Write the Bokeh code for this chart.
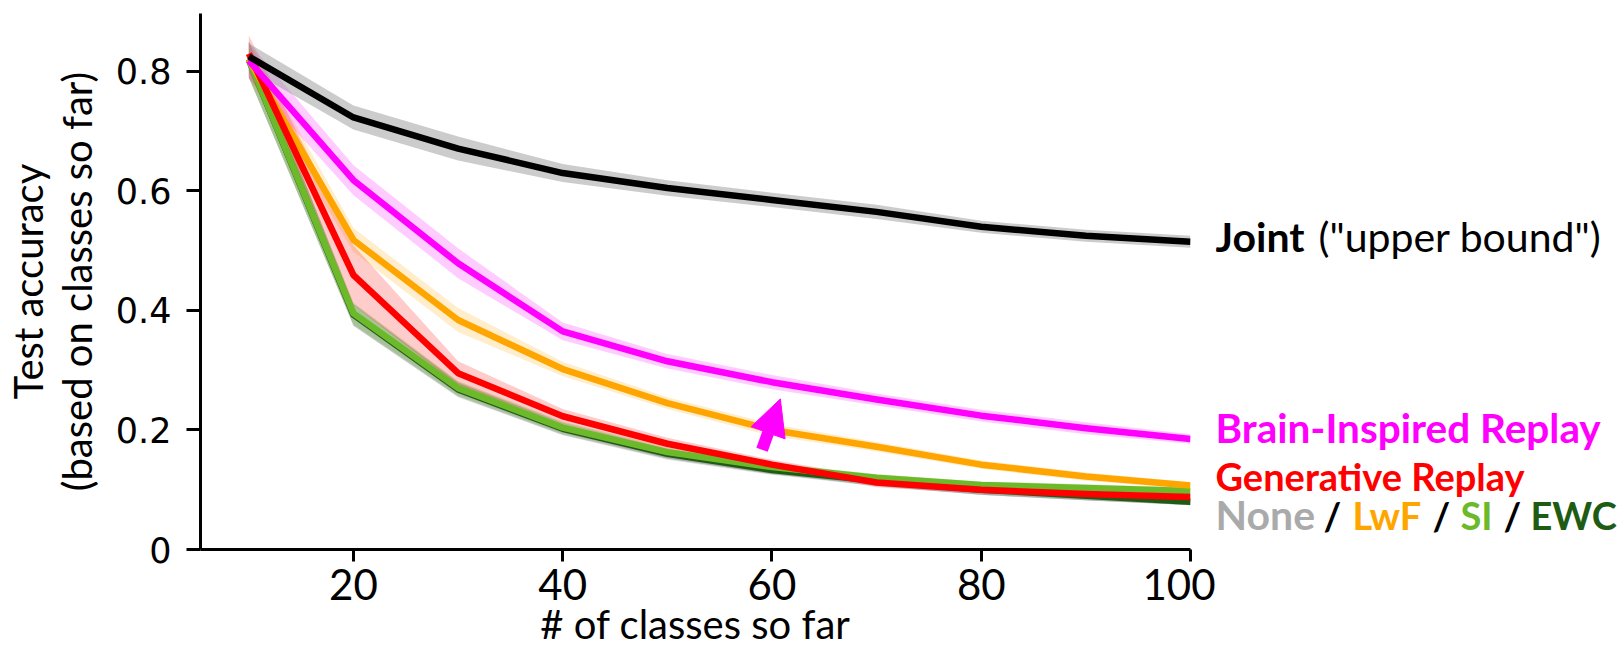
import math
from bokeh.plotting import figure
from bokeh.layouts import row
from bokeh.models import Range1d, FixedTicker, CustomJSTickFormatter, Arrow, NormalHead, LinearAxis
from bokeh.core.properties import value
from bokeh.embed import file_html
from bokeh.resources import INLINE

# ---------------- data ----------------
classes = [10, 20, 30, 40, 50, 60, 70, 80, 90, 100]

joint     = [0.825, 0.723, 0.671, 0.630, 0.605, 0.585, 0.565, 0.540, 0.525, 0.515]
joint_sd  = [0.022, 0.020, 0.020, 0.015, 0.013, 0.012, 0.012, 0.010, 0.010, 0.010]
bir       = [0.818, 0.618, 0.479, 0.365, 0.315, 0.280, 0.251, 0.224, 0.203, 0.185]
bir_sd    = [0.030, 0.025, 0.025, 0.015, 0.012, 0.012, 0.010, 0.010, 0.010, 0.008]
lwf       = [0.820, 0.518, 0.384, 0.302, 0.245, 0.200, 0.172, 0.142, 0.122, 0.107]
lwf_sd    = [0.030, 0.020, 0.020, 0.012, 0.010, 0.010, 0.008, 0.007, 0.007, 0.006]
gr        = [0.830, 0.459, 0.295, 0.223, 0.177, 0.142, 0.112, 0.100, 0.093, 0.088]
gr_sd     = [0.030, 0.050, 0.020, 0.012, 0.010, 0.008, 0.008, 0.007, 0.007, 0.006]
si        = [0.820, 0.395, 0.270, 0.204, 0.163, 0.138, 0.120, 0.108, 0.103, 0.098]
si_sd     = [0.030, 0.018, 0.012, 0.010, 0.008, 0.007, 0.006, 0.006, 0.006, 0.006]
ewc       = [0.820, 0.393, 0.268, 0.202, 0.160, 0.133, 0.115, 0.100, 0.090, 0.080]
ewc_sd    = [0.030, 0.018, 0.012, 0.010, 0.008, 0.007, 0.006, 0.006, 0.006, 0.006]
none      = [0.820, 0.392, 0.267, 0.201, 0.158, 0.132, 0.112, 0.097, 0.088, 0.080]
none_sd   = [0.030, 0.018, 0.012, 0.010, 0.008, 0.007, 0.006, 0.006, 0.006, 0.006]

x_ticks = [20, 40, 60, 80, 100]
y_ticks = [0, 0.2, 0.4, 0.6, 0.8]

arrow_start = (59.05, 0.167)
arrow_end = (60.8, 0.252)

# legend pieces
legend_text = ["Joint", "(\"upper bound\")", "Brain-Inspired Replay", "Generative Replay",
               "None", "/", "LwF", "/", "SI", "/", "EWC"]
legend_color = ["#000000", "#000000", "#ff00ff", "#ff0000",
                "#aaaaaa", "#000000", "#ffa500", "#000000", "#6cba2a", "#000000", "#1e5b13"]
legend_bold = [True, False, True, True, True, True, True, True, True, True, True]

# ---------------- layout ----------------
H = 650
BL, BT = 200, 13
FW, FH = 990, 537
BB = H - BT - FH
PW = 1215
LW = 1618 - PW
X0, X1 = 5.38, 100.0
Y0, Y1 = 0.0, 0.897

p = figure(width=PW, height=H, output_backend="svg", toolbar_location=None,
           x_range=Range1d(X0, X1), y_range=Range1d(Y0, Y1),
           min_border_left=BL, min_border_right=PW - BL - FW,
           min_border_top=BT, min_border_bottom=BB)
p.grid.visible = False
p.outline_line_color = None

def py2y(py):  # page pixel row -> data y
    return Y0 + (BT + FH - py) / FH * (Y1 - Y0)

# ---------------- bands & lines ----------------
series = [
    (none, none_sd, "#aaaaaa", "#aaaaaa", 0.35),
    (ewc, ewc_sd, "#1e5b13", "#1e5b13", 0.2),
    (si, si_sd, "#6cba2a", "#6cba2a", 0.25),
    (lwf, lwf_sd, "#ffa500", "#ffa500", 0.2),
    (gr, gr_sd, "#ff0000", "#ff0000", 0.2),
    (bir, bir_sd, "#ff00ff", "#ff00ff", 0.2),
    (joint, joint_sd, "#000000", "#999999", 0.5),
]
for vals, sd, lc, bc, a in series:
    lo = [v - s for v, s in zip(vals, sd)]
    hi = [v + s for v, s in zip(vals, sd)]
    p.varea(x=classes, y1=lo, y2=hi, fill_color=bc, fill_alpha=a)
for vals, sd, lc, bc, a in series:
    p.line(classes, vals, line_color=lc, line_width=6.5, line_join="round")

p.add_layout(Arrow(end=NormalHead(size=36, fill_color="#ff00ff", line_color="#ff00ff", line_width=1),
                   x_start=arrow_start[0], y_start=arrow_start[1],
                   x_end=arrow_end[0], y_end=arrow_end[1],
                   line_color="#ff00ff", line_width=12))

# ---------------- axes ----------------
for ax in (p.xaxis[0], p.yaxis[0]):
    ax.axis_line_width = 3
    ax.axis_line_color = "black"
    ax.major_tick_line_width = 3
    ax.major_tick_line_color = "black"
    ax.minor_tick_line_color = None
    ax.major_tick_in = 0
    ax.major_label_text_color = "black"
    ax.axis_label_text_font = "Lato"
    ax.axis_label_text_font_style = "normal"
    ax.axis_label_text_font_size = "40px"
    ax.axis_label_text_color = "black"

p.xaxis.ticker = FixedTicker(ticks=x_ticks)
p.xaxis.major_tick_out = 12
p.xaxis.major_label_standoff = 7
p.xaxis.major_label_text_font = "Lato"
p.xaxis.major_label_text_font_size = "42px"
p.xaxis.axis_label = "# of classes so far"
p.xaxis.axis_label_standoff = -3

p.yaxis.ticker = FixedTicker(ticks=y_ticks)
p.yaxis.formatter = CustomJSTickFormatter(code="return tick === 0 ? '0' : tick.toFixed(1);")
p.yaxis.major_tick_out = 14
p.yaxis.major_label_standoff = 15
p.yaxis.major_label_text_font = "DejaVu Sans"
p.yaxis.major_label_text_font_size = "35px"
p.yaxis.axis_label = "(based on classes so far)"
p.yaxis.axis_label_standoff = 12

y2 = LinearAxis(axis_label="Test accuracy", ticker=FixedTicker(ticks=[]),
                axis_line_color=None, major_tick_line_color=None, minor_tick_line_color=None,
                major_tick_out=0, major_tick_in=0, major_label_standoff=0,
                major_label_text_font_size="0px", axis_label_standoff=-2,
                axis_label_text_font="Lato", axis_label_text_font_style="normal",
                axis_label_text_font_size="40px", axis_label_text_color="black")
p.add_layout(y2, "left")

# ---------------- direct labels (right panel: x in page pixels, y shared with plot) ----------------
q = figure(width=LW, height=H, output_backend="svg", toolbar_location=None,
           x_range=Range1d(PW, PW + LW), y_range=p.y_range,
           x_axis_location=None, y_axis_location=None,
           min_border_left=0, min_border_right=0, min_border_top=BT, min_border_bottom=BB)
q.grid.visible = False
q.outline_line_color = None

lx = [1215, 1318, 1215, 1215, 1215, 1323, 1352, 1432, 1460, 1503, 1530]
ly = [236, 236, 428, 476, 515, 515, 515, 515, 515, 515, 515]
lsize = ["41px", "41px", "40.5px", "38px", "41px", "38px", "38px", "38px", "38px", "38px", "38px"]
for b in (True, False):
    idx = [i for i in range(len(legend_text)) if legend_bold[i] == b]
    q.text(x=[lx[i] for i in idx], y=[py2y(ly[i]) for i in idx],
           text=[legend_text[i] for i in idx], text_color=[legend_color[i] for i in idx],
           text_font_size=[lsize[i] for i in idx],
           text_font=value("Lato"),
           text_font_style="bold" if b else "normal",
           text_align="left", text_baseline="alphabetic")

layout = row(p, q, spacing=0)
open("out.html", "w").write(file_html(layout, INLINE))
